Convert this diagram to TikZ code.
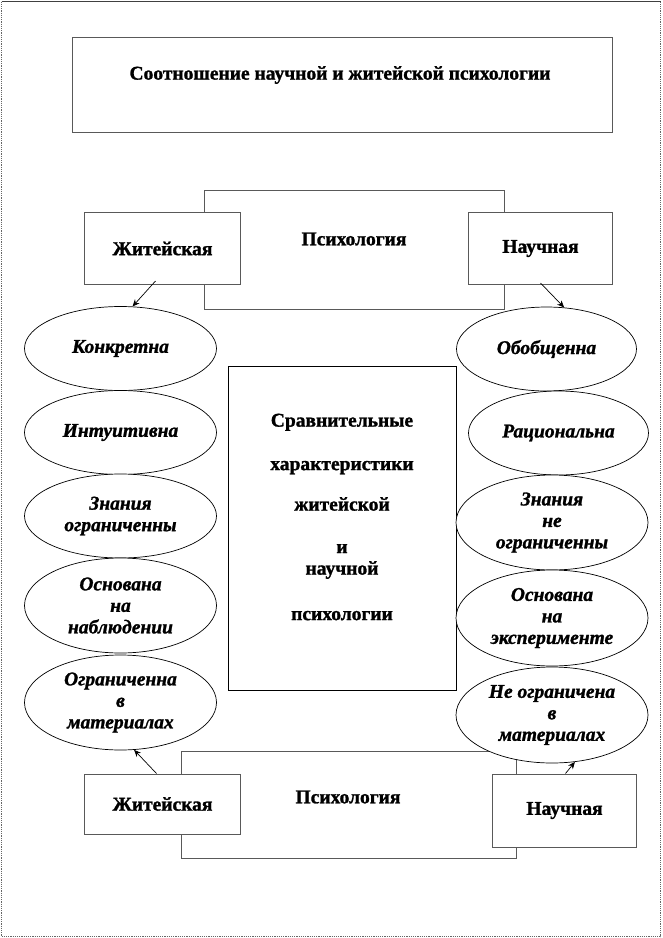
\documentclass[tikz,border=0pt]{standalone}
\usepackage{fontspec}
\setmainfont{Liberation Serif}[BoldFeatures={FakeBold=1.3},BoldItalicFeatures={FakeBold=1.3}]
\usetikzlibrary{shapes.geometric,arrows.meta,calc}
\begin{document}
\begin{tikzpicture}[x=1pt,y=-1pt,
  box/.style={draw=black!65,line width=1pt,fill=white,rectangle,inner sep=0pt},
  oval/.style={draw=black,line width=0.7pt,fill=white,ellipse,inner sep=0pt,align=center,
    font=\fontsize{19.5}{21.5}\selectfont\bfseries\itshape},
  lbl/.style={font=\fontsize{19.5}{21.5}\selectfont\bfseries,align=center,inner sep=0pt},
  arr/.style={draw=black,line width=0.7pt,-{Stealth[length=7pt,width=6pt]}}]
\useasboundingbox (0,0) rectangle (662,938);
% outer frame
\draw[black!60,line width=1.2pt,densely dotted] (1.5,1.5) -- (1.5,936.5) -- (660.5,936.5) -- (660.5,1.5);
\draw[black!75,line width=1.2pt] (1.5,1.5) -- (660.5,1.5);
% title
\node[box,minimum width=540pt,minimum height=95pt] (title) at (342,84.5) {};
\node[lbl] (titletxt) at (340,75) {Соотношение научной и житейской психологии};
% top group
\node[box,minimum width=300pt,minimum height=119pt] (psy1) at (354.5,249.5) {};
\node[lbl] (psy1txt) at (354,239) {Психология};
\node[box,lbl,minimum width=156pt,minimum height=72pt] (zh1) at (162.5,248.5) {Житейская};
\node[box,lbl,minimum width=144pt,minimum height=72pt] (na1) at (540.5,248.5) {Научная};
% bottom group
\node[box,minimum width=335pt,minimum height=107pt] (psy2) at (348.5,804.5) {};
\node[lbl] (psy2txt) at (348,797) {Психология};
\node[box,lbl,minimum width=156pt,minimum height=60pt] (zh2) at (162.5,804) {Житейская};
\node[box,lbl,minimum width=144pt,minimum height=73pt] (na2) at (564.5,810.5) {Научная};
% central box
\node[box,draw=black,minimum width=228pt,minimum height=324pt] (cmp) at (342,528) {};
\node[lbl] (cmptxt) at (342,517) {Сравнительные\\[22pt]характеристики\\[19pt]житейской\\[21pt]и\\научной\\[24pt]психологии};
% left ellipses
\node[oval,minimum width=192pt,minimum height=84pt] (l1) at (120.5,348.5) {Конкретна};
\node[oval,minimum width=192pt,minimum height=84pt] (l2) at (120.5,432.5) {Интуитивна};
\node[oval,minimum width=192pt,minimum height=84pt] (l3) at (120.5,516) {Знания\\ограниченны};
\node[oval,minimum width=192pt,minimum height=95pt] (l4) at (120.5,605.5) {Основана\\на\\наблюдении};
\node[oval,minimum width=192pt,minimum height=95pt] (l5) at (120.5,702.5) {Ограниченна\\в\\материалах};
% right ellipses
\node[oval,minimum width=180pt,minimum height=84pt] (r1) at (546.5,349) {Обобщенна};
\node[oval,minimum width=180pt,minimum height=84pt] (r2) at (558.5,433) {Рациональна};
\node[oval,minimum width=192pt,minimum height=95pt] (r3) at (552,522.5) {Знания\\не\\ограниченны};
\node[oval,minimum width=192pt,minimum height=96pt] (r4) at (552,618) {Основана\\на\\эксперименте};
\node[oval,minimum width=192pt,minimum height=96pt] (r5) at (552,715) {Не ограничена\\в\\материалах};
% arrows
\draw[arr] ($(zh1.south)+(-7,-4)$) -- (l1.74);
\draw[arr] ($(na1.south)+(0,-2)$) -- (r1.67);
\draw[arr] ($(zh2.north)+(-6,0)$) -- (l5.-74);
\draw[arr] ($(na2.north)+(1,0)$) -- (r5.-64);
\end{tikzpicture}
\end{document}
